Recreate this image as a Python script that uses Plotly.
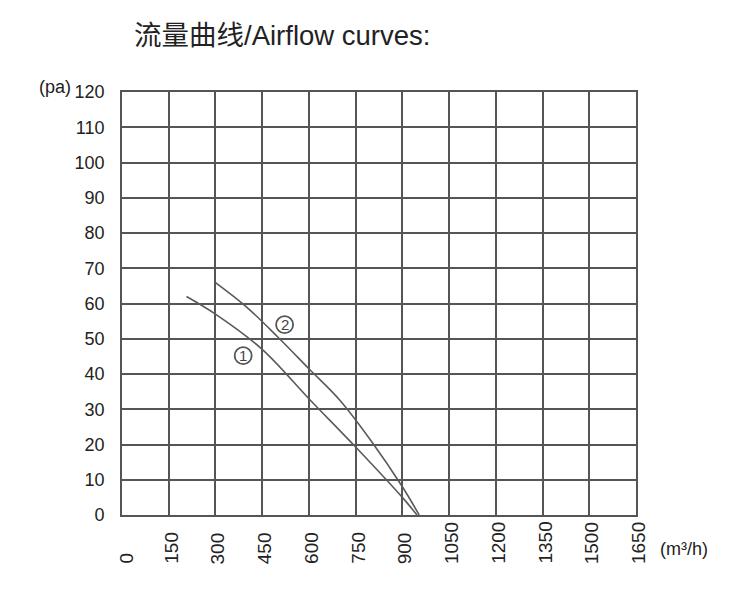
import plotly.graph_objects as go

# ---- data ----
x_ticks = [0, 150, 300, 450, 600, 750, 900, 1050, 1200, 1350, 1500, 1650]
y_ticks = [0, 10, 20, 30, 40, 50, 60, 70, 80, 90, 100, 110, 120]

curve1_x = [207, 300, 450, 600, 750, 900, 947]
curve1_y = [62, 57, 47, 33, 19.3, 5, 0]

curve2_x = [299, 400, 500, 600, 700, 800, 900, 954]
curve2_y = [66, 59, 50.5, 41.5, 32.5, 21, 8, 0]

label_text = ["1", "2"]
label_x = [389, 522]
label_y = [45.2, 54.0]

title_text = "流量曲线/Airflow curves:"
y_unit = "(pa)"
x_unit = "(m³/h)"

# ---- styling ----
FONT = "Liberation Sans, Arial, Noto Sans CJK SC, sans-serif"
LINE = "#555555"
TEXT = "#222222"

fig = go.Figure()
for cx, cy in [(curve1_x, curve1_y), (curve2_x, curve2_y)]:
    fig.add_trace(go.Scatter(
        x=cx, y=cy, mode="lines",
        line=dict(color="#5a5a5a", width=1.6, shape="spline", smoothing=1.0),
        showlegend=False, hoverinfo="skip"))

annotations = []
# x tick labels, rotated, bottom aligned
for v in x_ticks:
    annotations.append(dict(
        x=v, xref="x", y=-0.1206, yref="paper",
        text=str(v), textangle=-90, showarrow=False,
        xanchor="center", yanchor="bottom",
        xshift=5 if v == 0 else 2,
        font=dict(family=FONT, size=19, color=TEXT)))

# curve labels (circled numbers)
shapes = []
for t, lx, ly in zip(label_text, label_x, label_y):
    annotations.append(dict(
        x=lx, y=ly, xref="x", yref="y", text=t, showarrow=False,
        xanchor="center", yanchor="middle",
        font=dict(family=FONT, size=15, color="#444444")))
    shapes.append(dict(
        type="circle", xref="x", yref="y",
        xsizemode="pixel", ysizemode="pixel",
        xanchor=lx, yanchor=ly, x0=-8.5, x1=8.5, y0=-8.5, y1=8.5,
        line=dict(color="#555555", width=1.8)))

annotations.append(dict(
    x=0.312, y=1.1336, xref="paper", yref="paper", text=title_text,
    showarrow=False, xanchor="center", yanchor="middle",
    font=dict(family=FONT, size=27.5, color=TEXT)))
annotations.append(dict(
    x=-0.131, y=1.011, xref="paper", yref="paper", text=y_unit,
    showarrow=False, xanchor="center", yanchor="middle",
    font=dict(family=FONT, size=18, color=TEXT)))
annotations.append(dict(
    x=1.0934, y=-0.0804, xref="paper", yref="paper", text=x_unit,
    showarrow=False, xanchor="center", yanchor="middle",
    font=dict(family=FONT, size=18, color=TEXT)))

fig.update_layout(
    width=750, height=594,
    margin=dict(l=114, r=122, t=84, b=87),
    paper_bgcolor="white", plot_bgcolor="white",
    annotations=annotations,
    shapes=shapes,
    xaxis=dict(
        range=[0, 1650], tickvals=x_ticks, showticklabels=False,
        showgrid=True, gridcolor=LINE, gridwidth=1.5,
        showline=True, linecolor=LINE, linewidth=1.8, mirror=True,
        zeroline=False, ticks=""),
    yaxis=dict(
        range=[0, 120], tickvals=y_ticks, ticktext=[str(v) for v in y_ticks],
        showgrid=True, gridcolor=LINE, gridwidth=1.5,
        showline=True, linecolor=LINE, linewidth=1.8, mirror=True,
        zeroline=False, ticks="", ticklabelstandoff=12,
        tickfont=dict(family=FONT, size=18, color=TEXT)),
)

fig.write_html("out.html")
